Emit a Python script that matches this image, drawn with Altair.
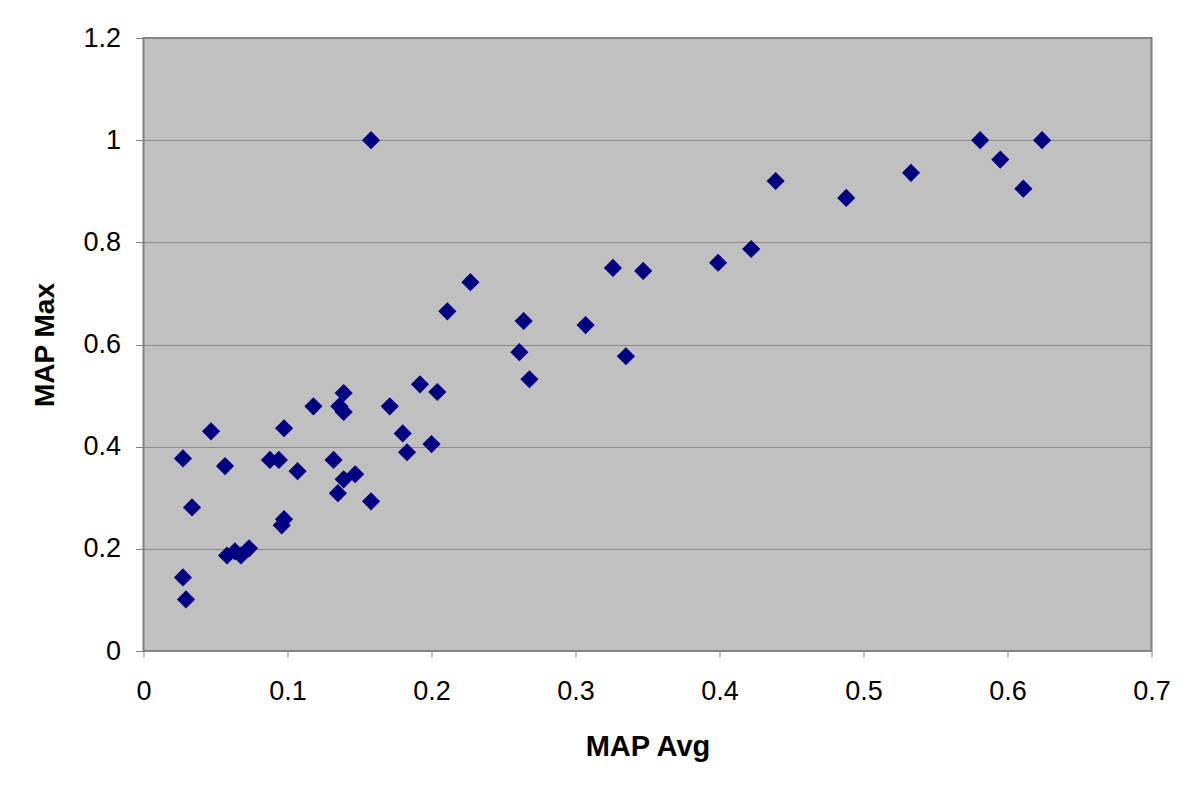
import altair as alt
import pandas as pd

map_avg = [0.0274, 0.0274, 0.0295, 0.0337, 0.0469, 0.0566, 0.058, 0.0635, 0.0677, 0.0733,
           0.0878, 0.094, 0.096, 0.0976, 0.0976, 0.107, 0.118, 0.132, 0.135, 0.136,
           0.139, 0.139, 0.139, 0.147, 0.158, 0.158, 0.171, 0.180, 0.183, 0.192,
           0.200, 0.204, 0.211, 0.227, 0.261, 0.264, 0.268, 0.307, 0.326, 0.335,
           0.347, 0.399, 0.422, 0.439, 0.488, 0.533, 0.581, 0.595, 0.611, 0.624]
map_max = [0.377, 0.144, 0.101, 0.281, 0.430, 0.362, 0.187, 0.195, 0.187, 0.201,
           0.374, 0.374, 0.246, 0.258, 0.436, 0.352, 0.479, 0.374, 0.309, 0.479,
           0.505, 0.468, 0.336, 0.346, 1.0, 0.293, 0.479, 0.426, 0.389, 0.522,
           0.405, 0.507, 0.665, 0.722, 0.585, 0.646, 0.532, 0.638, 0.750, 0.577,
           0.744, 0.760, 0.787, 0.920, 0.887, 0.936, 1.0, 0.962, 0.905, 1.0]

x_ticks = [0, 0.1, 0.2, 0.3, 0.4, 0.5, 0.6, 0.7]
y_ticks = [0, 0.2, 0.4, 0.6, 0.8, 1.0, 1.2]

df = pd.DataFrame({"MAP Avg": map_avg, "MAP Max": map_max})

font = "Liberation Sans"

chart = alt.Chart(df).mark_point(
    shape="diamond", filled=True, size=330, color="#000080", opacity=1
).encode(
    x=alt.X("MAP Avg:Q",
            scale=alt.Scale(domain=[0, 0.7], nice=False, zero=False),
            axis=alt.Axis(values=x_ticks, format="~g", grid=False, domain=False,
                          tickColor="#808080", tickSize=6, tickWidth=1,
                          labelFontSize=27, labelFont=font, labelColor="#000000",
                          labelPadding=21, title="MAP Avg", titleFontSize=29,
                          titleFont=font, titleFontWeight="bold", titleColor="#000000",
                          titlePadding=28, labelFlush=False)),
    y=alt.Y("MAP Max:Q",
            scale=alt.Scale(domain=[0, 1.2], nice=False, zero=False),
            axis=alt.Axis(values=y_ticks, format="~g", grid=True, gridColor="#8a8a8a",
                          gridWidth=1, domain=False,
                          tickColor="#808080", tickSize=8, tickWidth=1,
                          labelFontSize=27, labelFont=font, labelColor="#000000",
                          labelPadding=15, title="MAP Max", titleFontSize=28,
                          titleFont=font, titleFontWeight="bold", titleColor="#000000",
                          titlePadding=23, labelFlush=False))
).properties(
    width=1008,
    height=613,
    background="#FFFFFF",
    autosize=alt.AutoSizeParams(type="none"),
    padding={"left": 135.5, "top": 30, "right": 40, "bottom": 130},
).configure_view(
    fill="#C0C0C0", stroke="#808080", strokeWidth=2
)

chart.save("out.html", embed_options={"renderer": "svg", "actions": False})
